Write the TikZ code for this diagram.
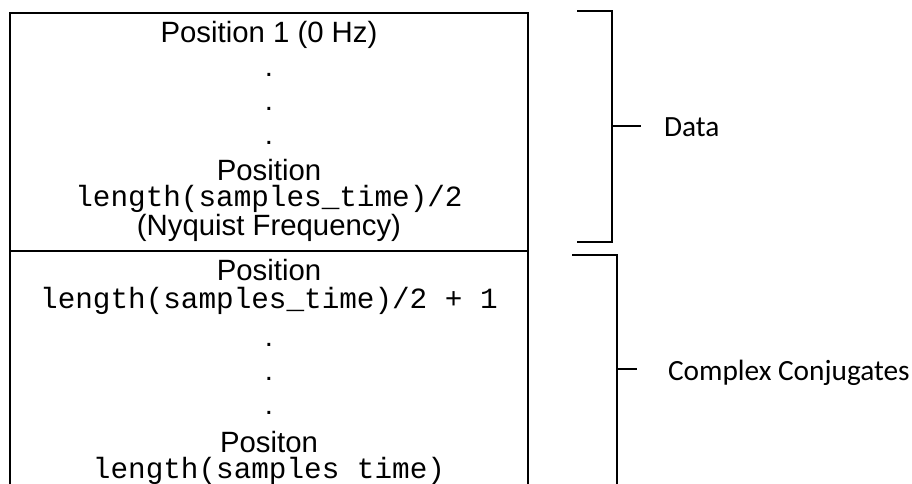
\documentclass[tikz,border=0pt]{standalone}
\usepackage{fontspec}
\setmainfont{Liberation Sans}
\setmonofont{Liberation Mono}
\newfontfamily\labelfont{Carlito}

\begin{document}
\begin{tikzpicture}[
    x=1pt, y=-1pt,
    line width=2pt,
    cell/.style={
        draw,
        minimum width=518pt,
        inner sep=0pt
    },
    entry/.style={
        anchor=base,
        inner sep=0pt,
        font=\fontsize{29.33pt}{35pt}\selectfont
    },
    code/.style={
        entry,
        font=\ttfamily\fontsize{29.33pt}{35pt}\selectfont
    },
    side/.style={
        anchor=base west,
        inner sep=0pt,
        font=\labelfont\fontsize{29.33pt}{35pt}\selectfont
    },
    brace/.style={
        line width=2pt
    }
]
\useasboundingbox (0,0) rectangle (912,483);
\clip (0,0) rectangle (912,483);

% the two halves of the array
\node[cell, minimum height=238pt] (datacell) at (269,132) {};
\node[cell, minimum height=280pt] (conjcell) at (269,391) {};

% upper half
\node[entry] (first) at (269,42) {Position 1 (0 Hz)};
\foreach \y [count=\i] in {76,110,144}
    \node[entry] (dotup\i) at (269,\y) {.};
\node[entry] (nyqpos) at (269,180) {Position};
\node[code] (nyqidx) at (269,206) {length(samples\_time)/2};
\node[entry] (nyq) at (269,235) {(Nyquist Frequency)};

% lower half
\node[entry] (nextpos) at (269,280) {Position};
\node[code] (nextidx) at (269,308) {length(samples\_time)/2 + 1};
\foreach \y [count=\i] in {346,380,414}
    \node[entry] (dotdown\i) at (269,\y) {.};
\node[entry] (lastpos) at (269,452) {Positon};
\node[code] (lastidx) at (269,478) {length(samples time)};

% brackets
\coordinate (datatop) at (612,11);
\coordinate (databot) at (612,242);
\coordinate (datamid) at (612,126);
\coordinate (conjtop) at (617,255);
\coordinate (conjbot) at (617,500);
\coordinate (conjmid) at (617,369);

\draw[brace] ([xshift=-35pt]datatop) -- (datatop) -- (databot) -- ([xshift=-35pt]databot);
\draw[brace] ([xshift=-45pt]conjtop) -- (conjtop) -- (conjbot);

\node[side] (data) at (663,136) {Data};
\node[side] (conj) at (667,380) {Complex Conjugates};

\draw[brace] (datamid) -- ([xshift=29pt]datamid);
\draw[brace] (conjmid) -- ([xshift=20pt]conjmid);

\end{tikzpicture}
\end{document}
